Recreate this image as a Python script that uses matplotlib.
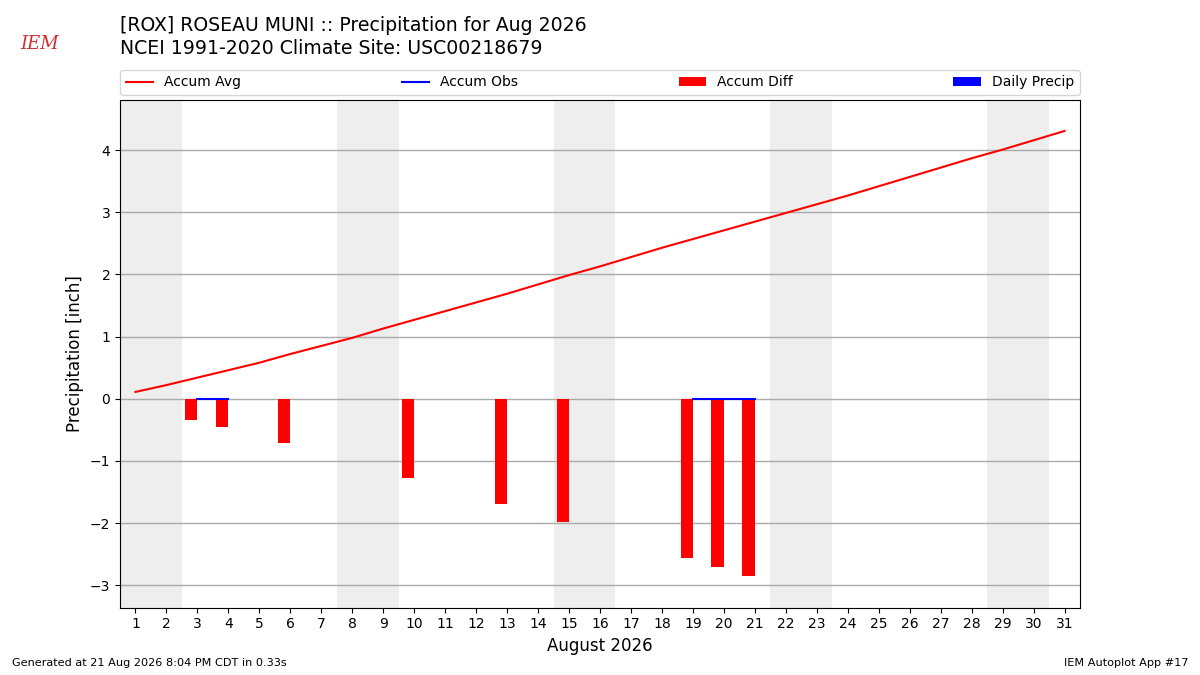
import datetime
import numpy as np
import matplotlib
matplotlib.use("Agg")
import matplotlib.pyplot as plt

days = list(range(1, 32))
accum_avg = [0.11, 0.22, 0.34, 0.46, 0.58, 0.72, 0.85, 0.98, 1.13, 1.27,
             1.41, 1.55, 1.69, 1.84, 1.99, 2.13, 2.28, 2.43, 2.57, 2.71,
             2.85, 2.99, 3.13, 3.27, 3.42, 3.57, 3.72, 3.87, 4.01, 4.16, 4.31]
obs_days = [3, 4, 6, 10, 13, 15, 19, 20, 21]
daily_precip = [0.0, 0.0, 0.0, 0.0, 0.0, 0.0, 0.0, 0.0, 0.0]

avg_map = dict(zip(days, accum_avg))
running = 0.0
obs_map = {}
for d, p in zip(obs_days, daily_precip):
    running += p
    obs_map[d] = running
accum_obs_full = [obs_map.get(d, np.nan) for d in days]
accum_diff = [obs_map[d] - avg_map[d] for d in obs_days]

fig = plt.figure(figsize=(12, 6.75), dpi=100)
ax = fig.add_axes([0.1, 0.1, 0.8, 0.752])

# weekend shading
for d in days:
    if datetime.date(2026, 8, d).weekday() >= 5:
        ax.axvspan(d - 0.5, d + 0.5, color="#eeeeee", zorder=0, lw=0)

ax.plot(days, accum_avg, color="r", lw=1.5, label="Accum Avg", zorder=3)
ax.plot(days, accum_obs_full, color="b", lw=1.5, label="Accum Obs", zorder=4)
ax.bar(obs_days, accum_diff, width=-0.4, align="edge", color="r",
       label="Accum Diff", zorder=2)
ax.bar(obs_days, daily_precip, width=0.4, align="edge", color="b",
       label="Daily Precip", zorder=2)

ax.set_xlim(0.5, 31.5)
ax.set_ylim(-3.36, 4.81)
ax.set_xticks(days)
ax.set_xticklabels([str(d) for d in days])
ax.yaxis.grid(True, color="#aaaaaa", lw=1)
ax.set_axisbelow(True)
ax.set_ylabel("Precipitation [inch]", fontsize=12)
ax.set_xlabel("August 2026", fontsize=12)
ax.tick_params(labelsize=10)

ax.legend(bbox_to_anchor=(0.0, 1.0098, 1.0, 0.052), loc="lower left", ncol=4,
          mode="expand", borderaxespad=0.0, fontsize=10)

fig.text(0.1, 0.977, "[ROX] ROSEAU MUNI :: Precipitation for Aug 2026\n"
         "NCEI 1991-2020 Climate Site: USC00218679",
         fontsize=13.6, va="top", ha="left", linespacing=1.3)
fig.text(0.01, 0.01, "Generated at 21 Aug 2026 8:04 PM CDT in 0.33s",
         fontsize=8.1, ha="left", va="bottom")
fig.text(0.99, 0.01, "IEM Autoplot App #17", fontsize=8.1, ha="right",
         va="bottom")
fig.text(0.017, 0.922, "IEM", fontsize=13, color="#d03030", family="serif",
         style="italic", ha="left", va="bottom")

fig.savefig("out.png", dpi=100)
